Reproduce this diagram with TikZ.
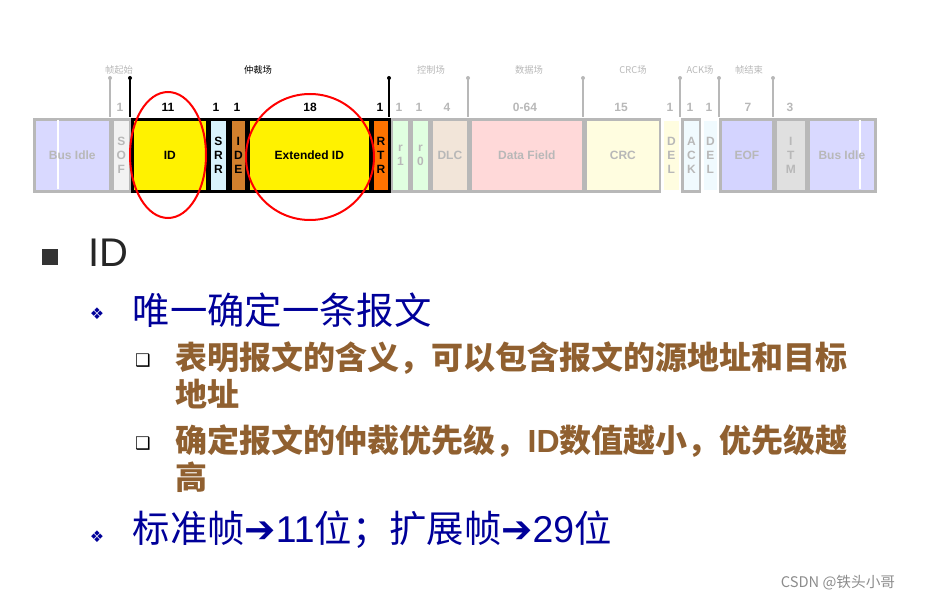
\documentclass[tikz,border=0pt]{standalone}
\usepackage{fontspec}
\setmainfont{Liberation Sans}
\newfontfamily\cjk{Noto Sans CJK SC}
\newfontfamily\sym{DejaVu Sans}
\begin{document}
\begin{tikzpicture}[x=0.75pt,y=-0.75pt,
  fld/.style={draw=#1,line width=2pt,anchor=north west,inner sep=0pt,align=center,font=\bfseries\fontsize{9}{10}\selectfont},
  num/.style={font=\bfseries\fontsize{9}{10}\selectfont},
  lab/.style={font=\cjk\fontsize{7}{8}\selectfont},
  mk/.style={line width=1pt},
  ring/.style={draw=red,line width=1.5pt},
  lvl1/.style={anchor=west,text=blue!60!black,font=\cjk\fontsize{28}{32}\selectfont},
  lvl2/.style={anchor=west,text=brown!75!black,font=\cjk\bfseries\fontsize{24}{28}\selectfont,align=left}]
\useasboundingbox (0,0) rectangle (928,602);
\colorlet{gr}{black!28}
% fields
\def\fldbox#1#2#3#4#5#6{\node[fld=#4,fill=#5,text=#6,minimum width=(#3-#2-2)*0.75pt,minimum height=54pt] (#1) at (#2+1,118) {};}
\fldbox{bi1}{32}{110}{gr}{blue!15!white}{gr}
\fldbox{sof}{110}{130}{gr}{black!5}{gr}
\fldbox{r1}{389}{409}{gr}{green!12}{gr}
\fldbox{r0}{409}{429}{gr}{green!12}{gr}
\fldbox{dlc}{429}{468}{gr}{brown!20}{gr}
\fldbox{data}{468}{583}{gr}{red!15}{gr}
\fldbox{crc}{583}{660}{gr}{yellow!12}{gr}
\fldbox{del1}{660}{680}{white}{yellow!12}{gr}
\fldbox{ack}{680}{700}{gr}{cyan!6}{gr}
\fldbox{del2}{700}{718}{white}{cyan!6}{gr}
\fldbox{eof}{718}{773}{gr}{blue!17}{gr}
\fldbox{itm}{773}{806}{gr}{black!12}{gr}
\fldbox{bi2}{806}{875}{gr}{blue!15!white}{gr}
\draw[white,line width=1pt] (58,120) -- (58,189) (860,120) -- (860,189);
\fldbox{id}{130}{207}{black}{yellow}{black}
\fldbox{srr}{207}{227}{black}{cyan!15}{black}
\fldbox{ide}{228}{246}{black}{brown!70!orange}{black}
\fldbox{ext}{246}{370}{black}{yellow}{black}
\fldbox{rtr}{370}{389}{black}{orange!90!red}{black}
\def\ftxt#1#2#3{\node[font=\bfseries\fontsize{9}{10.5}\selectfont,text=#3,align=center] at (#1.center) {#2};}
\ftxt{bi1}{Bus Idle}{gr}\ftxt{sof}{S\\O\\F}{gr}\ftxt{r1}{r\\1}{gr}\ftxt{r0}{r\\0}{gr}\ftxt{dlc}{DLC}{gr}
\ftxt{data}{Data Field}{gr}\ftxt{crc}{CRC}{gr}\ftxt{del1}{D\\E\\L}{gr}\ftxt{ack}{A\\C\\K}{gr}\ftxt{del2}{D\\E\\L}{gr}
\ftxt{eof}{EOF}{gr}\ftxt{itm}{I\\T\\M}{gr}\ftxt{bi2}{Bus Idle}{gr}
\ftxt{id}{ID}{black}\ftxt{srr}{S\\R\\R}{black}\ftxt{ide}{I\\D\\E}{black}\ftxt{ext}{Extended ID}{black}\ftxt{rtr}{R\\T\\R}{black}
% numbers
\foreach \x/\n/\c in {120/1/gr,168/11/black,216/1/black,237/1/black,310/18/black,380/1/black,399/1/gr,419/1/gr,447/4/gr,525/0-64/gr,621/15/gr,670/1/gr,690/1/gr,709/1/gr,748/7/gr,790/3/gr}
  \node[num,text=\c] at (\x,107) {\n};
% markers
\foreach \x/\c in {110/gr,468/gr,583/gr,680/gr,719/gr,773/gr}{
  \coordinate (m\x) at (\x,78);
  \draw[mk,\c] (m\x) -- (\x,117); \fill[\c] (m\x) circle (2);}
\foreach \x in {130,389}{
  \coordinate (m\x) at (\x,78);
  \draw[mk,black] (m\x) -- (\x,117); \fill (m\x) circle (2);}
\foreach \x/\s/\c in {119/帧起始/gr,258/仲裁场/black,431/控制场/gr,529/数据场/gr,700/ACK场/gr,749/帧结束/gr,633/CRC场/gr}
  \node[lab,text=\c] at (\x,70) {\s};
% ellipses
\draw[ring] (168,155) ellipse [x radius=38,y radius=63];
\draw[ring] (310,157) ellipse [x radius=64,y radius=63];
% text
\node[fill=black!80,minimum size=12pt,inner sep=0pt] (b0) at (50,257) {};
\node[anchor=west,font=\fontsize{30}{34}\selectfont,text=black!85] (t0) at (84,253) {ID};
\node[text=blue!60!black,font=\sym\fontsize{12}{14}\selectfont] (b1) at (97,314) {❖};
\node[lvl1] (t1) at (128,310) {唯一确定一条报文};
\node[font=\sym\fontsize{13}{14}\selectfont] (b2) at (143,361) {❑};
\node[lvl2,anchor=north west] (t2) at (171,337) {表明报文的含义，可以包含报文的源地址和目标\\地址};
\node[font=\sym\fontsize{13}{14}\selectfont] (b3) at (143,444) {❑};
\node[lvl2,anchor=north west] (t3) at (171,420) {确定报文的仲裁优先级，\textrm{ID}数值越小，优先级越\\高};
\node[text=blue!60!black,font=\sym\fontsize{12}{14}\selectfont] (b4) at (97,537) {❖};
\node[lvl1] (t4) at (128,530) {标准帧{\sym ➔}\textrm{11}位；扩展帧{\sym ➔}\textrm{29}位};
\node[text=black!45,font=\cjk\fontsize{11}{12}\selectfont] (w) at (838,583) {CSDN @铁头小哥};
\end{tikzpicture}
\end{document}
